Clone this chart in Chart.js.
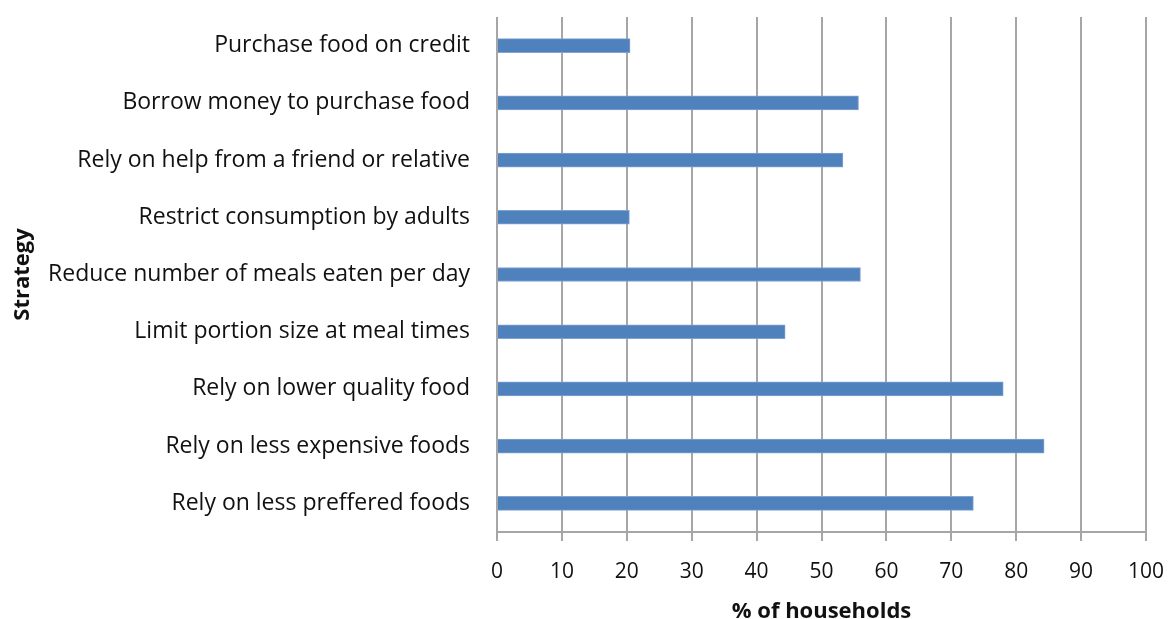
<!DOCTYPE html>
<html lang="en">
<head>
  <meta charset="UTF-8">
  <title>Coping strategies</title>
  <script src="https://cdn.jsdelivr.net/npm/chart.js"></script>
  <style>
    html, body { margin: 0; padding: 0; background: #fff; }
    #wrap { width: 1168px; height: 619px; }
  </style>
</head>
<body>
  <div id="wrap"><canvas id="chart"></canvas></div>
  <script>
    // data
    const strategies = [
      'Purchase food on credit',
      'Borrow money to purchase food',
      'Rely on help from a friend or relative',
      'Restrict consumption by adults',
      'Reduce number of meals eaten per day',
      'Limit portion size at meal times',
      'Rely on lower quality food',
      'Rely on less expensive foods',
      'Rely on less preffered foods'
    ];
    const households = [20.5, 55.7, 53.3, 20.4, 56.0, 44.4, 78.0, 84.3, 73.4];
    const xTicks = [0, 10, 20, 30, 40, 50, 60, 70, 80, 90, 100];

    const gridGrey = '#a6a6a6';
    const fontFam = '"Open Sans", sans-serif';

    new Chart(document.getElementById('chart'), {
      type: 'bar',
      data: {
        labels: strategies,
        datasets: [{
          data: households,
          backgroundColor: '#4f81bd',
          borderColor: '#7fa3d3',
          borderWidth: 1,
          borderSkipped: 'left',
          barThickness: 14
        }]
      },
      options: {
        indexAxis: 'y',
        responsive: true,
        maintainAspectRatio: false,
        animation: false,
        layout: { padding: { top: 17, right: 22, bottom: 0, left: 0 } },
        plugins: { legend: { display: false }, tooltip: { enabled: false } },
        scales: {
          x: {
            min: 0,
            max: 100,
            afterBuildTicks: s => { s.ticks = xTicks.map(v => ({ value: v })); },
            afterFit: s => { s.height = 87; },
            grid: { color: gridGrey, lineWidth: 2, tickLength: 9, drawTicks: true },
            border: { color: gridGrey, width: 2 },
            // tall line height pushes the labels down without adding side padding
            ticks: { color: '#111', font: { family: fontFam, size: 21, lineHeight: 2.95 }, padding: 0, maxRotation: 0 },
            title: { display: true, text: '% of households', color: '#111',
                     font: { family: fontFam, size: 22, weight: 'bold' }, padding: { top: 0, bottom: -6 } }
          },
          y: {
            afterFit: s => { s.width = 497; },
            // invisible tick marks give the gap between labels and plot
            grid: { display: true, drawOnChartArea: false, drawTicks: true, tickLength: 27, tickColor: 'rgba(0,0,0,0)' },
            border: { display: false },
            ticks: { color: '#111', font: { family: fontFam, size: 23 }, padding: 0 },
            title: { display: true, text: 'Strategy', color: '#111',
                     font: { family: fontFam, size: 22, weight: 'bold' }, padding: { top: 10, bottom: 0 } }
          }
        }
      }
    });
  </script>
</body>
</html>
